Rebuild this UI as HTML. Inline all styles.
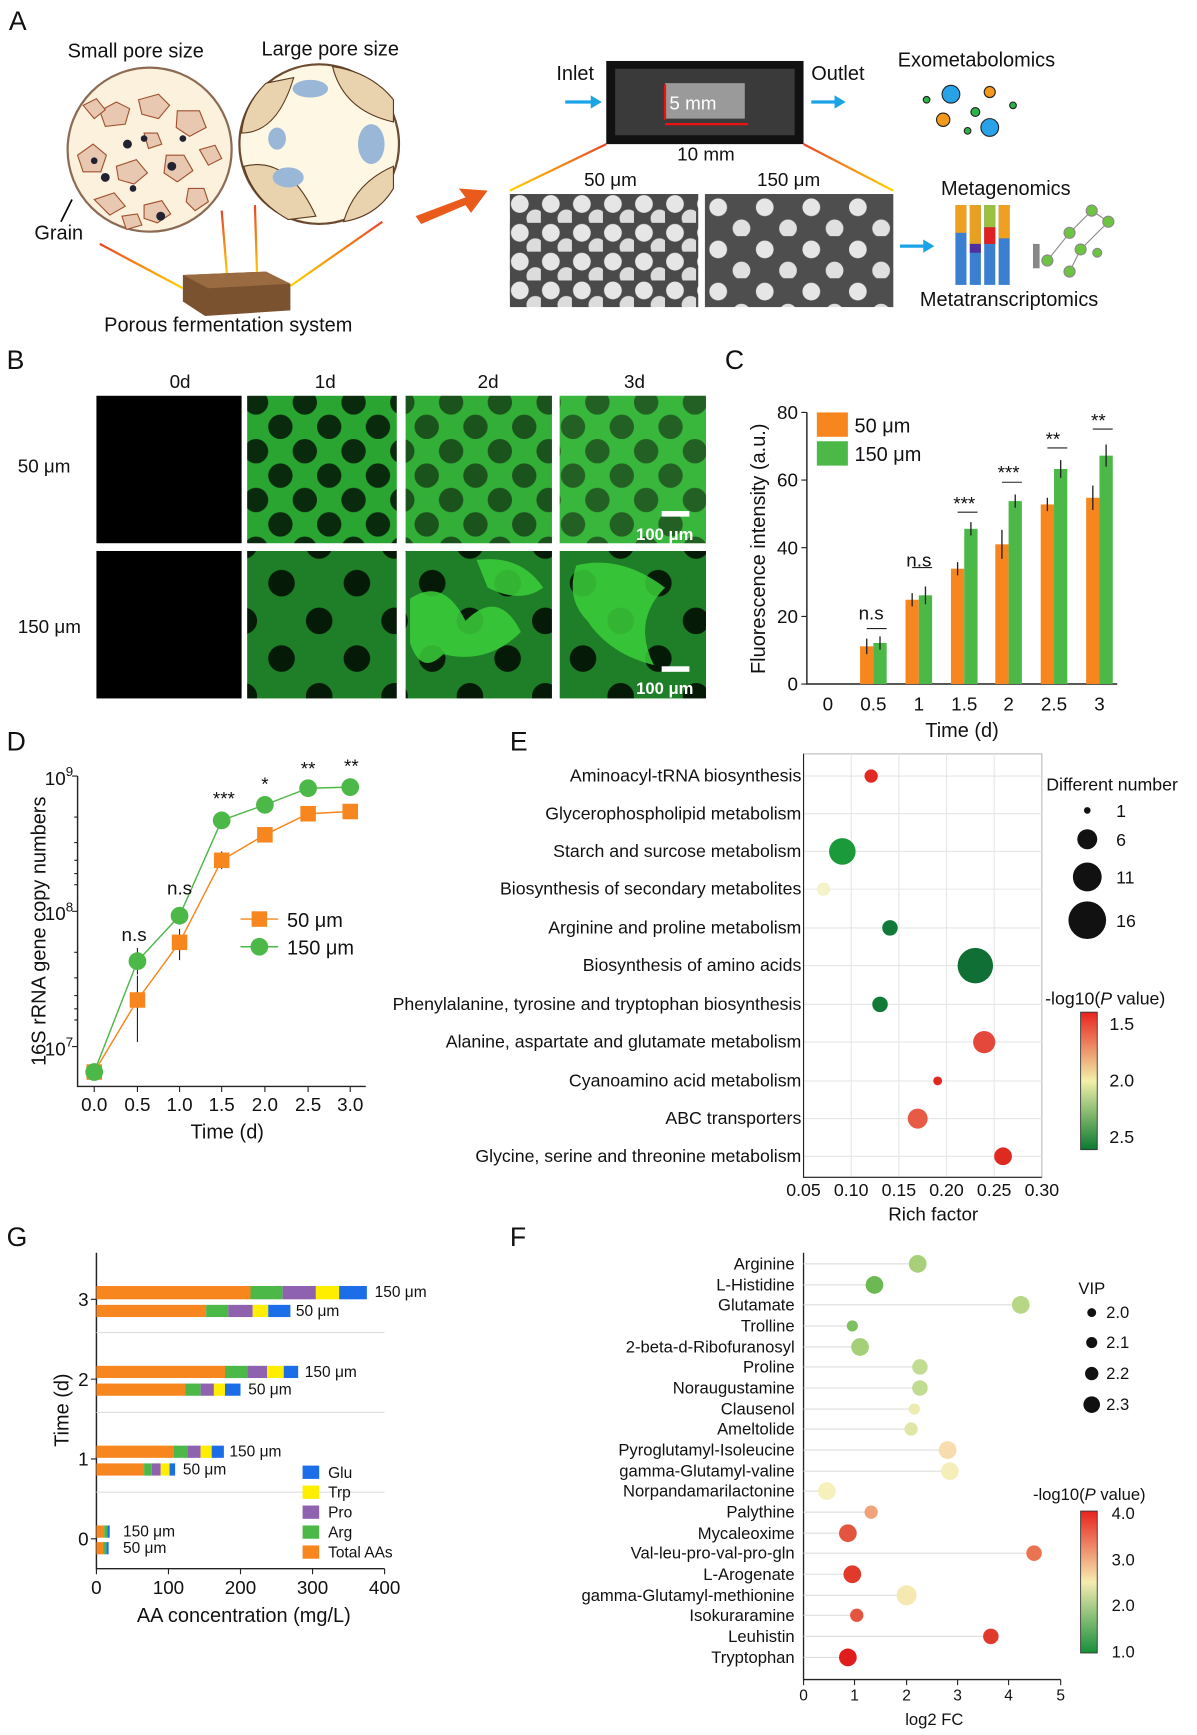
<!DOCTYPE html>
<html><head><meta charset="utf-8"><style>
html,body{margin:0;padding:0;background:#fff}
svg{display:block}
text{font-family:"Liberation Sans",Arial,sans-serif;fill:#111}
</style></head><body>
<svg width="1197" height="1735" viewBox="0 0 1080 1565" preserveAspectRatio="none" xmlns="http://www.w3.org/2000/svg">
<defs>
<linearGradient id="ly" x1="0" y1="0" x2="0" y2="1"><stop offset="0" stop-color="#e8452a"/><stop offset="1" stop-color="#ffd200"/></linearGradient>
<linearGradient id="cbE" x1="0" y1="0" x2="0" y2="1"><stop offset="0" stop-color="#e8231f"/><stop offset="0.5" stop-color="#f2f0a8"/><stop offset="1" stop-color="#0b7a30"/></linearGradient>
<linearGradient id="cbF" x1="0" y1="0" x2="0" y2="1"><stop offset="0" stop-color="#e8231f"/><stop offset="0.5" stop-color="#f6ecb0"/><stop offset="1" stop-color="#16903a"/></linearGradient>
<pattern id="sem1" width="28" height="26" patternUnits="userSpaceOnUse" x="460" y="175"><rect width="28" height="26" fill="#4a4a4a"/><circle cx="9" cy="9" r="8" fill="#e6e6e6"/><circle cx="23" cy="22" r="8" fill="#dcdcdc"/></pattern>
<pattern id="sem2" width="42" height="38" patternUnits="userSpaceOnUse" x="636" y="175"><rect width="42" height="38" fill="#4e4e4e"/><circle cx="12" cy="12" r="8" fill="#e6e6e6"/><circle cx="33" cy="31" r="8" fill="#e0e0e0"/></pattern>
<pattern id="g50" width="44" height="44" patternUnits="userSpaceOnUse"><rect width="44" height="44" fill="#2aa532"/><circle cx="11" cy="11" r="11" fill="#0a2a0d"/><circle cx="33" cy="33" r="11" fill="#0a2a0d"/></pattern>
<pattern id="g150" width="68" height="68" patternUnits="userSpaceOnUse"><rect width="68" height="68" fill="#1f7f28"/><circle cx="16" cy="16" r="12" fill="#061a08"/><circle cx="50" cy="50" r="12" fill="#061a08"/></pattern>
</defs>

<!-- Panel A -->
<text x="8" y="27" font-size="24">A</text>
<text x="61" y="52" font-size="18">Small pore size</text>
<text x="236" y="50" font-size="18">Large pore size</text>
<circle cx="135" cy="135" r="74" fill="#fbf1dc" stroke="#8c6b55" stroke-width="2"/>
<g fill="#e8c8b0" stroke="#a0502f" stroke-width="1">
<path d="M90 100l15-8 12 6-4 14-18 2z"/><path d="M125 90l18-5 10 10-10 12-15-4z"/><path d="M160 100l20 0 6 15-15 8-12-8z"/>
<path d="M70 140l14-10 12 10-5 15-16 0z"/><path d="M105 150l18-6 10 12-12 10-14-4z"/><path d="M150 140l16 0 8 14-14 10-12-8z"/>
<path d="M85 180l18-6 10 12-14 8z"/><path d="M130 185l16-4 8 12-12 8-12-4z"/><path d="M170 170l14 0 4 12-12 8-8-8z"/>
<path d="M75 95l12-6 8 10-10 8z"/><path d="M180 135l14-4 6 12-12 6z"/><path d="M110 195l14-2 4 10-14 4z"/><path d="M130 120l12 0 4 10-12 4z"/>
</g>
<g fill="#223" ><circle cx="115" cy="130" r="4"/><circle cx="130" cy="125" r="3"/><circle cx="155" cy="150" r="4"/><circle cx="95" cy="160" r="4"/><circle cx="145" cy="195" r="4"/><circle cx="165" cy="125" r="3"/><circle cx="85" cy="145" r="3"/><circle cx="120" cy="170" r="3"/></g>
<circle cx="288" cy="130" r="72" fill="#fdf7e3" stroke="#6b4a30" stroke-width="2"/>
<path d="M218 120 Q250 120 265 70 L240 75 Q220 95 218 120z" fill="#e9d2ae" stroke="#5a3a20"/>
<path d="M220 150 Q260 140 285 195 L260 198 Q228 180 220 150z" fill="#e9d2ae" stroke="#5a3a20"/>
<path d="M300 60 Q310 100 355 110 L355 90 Q335 65 300 60z" fill="#e9d2ae" stroke="#5a3a20"/>
<path d="M310 200 Q320 165 355 150 L355 170 Q340 195 310 200z" fill="#e9d2ae" stroke="#5a3a20"/>
<g fill="#9bb7d8"><ellipse cx="280" cy="80" rx="16" ry="8"/><ellipse cx="260" cy="160" rx="14" ry="9"/><ellipse cx="335" cy="130" rx="12" ry="18"/><ellipse cx="250" cy="125" rx="8" ry="10"/></g>
<path d="M65 180 L55 200" stroke="#000" stroke-width="1.5"/>
<text x="31" y="216" font-size="18">Grain</text>
<path d="M90 220 L165 260" stroke="url(#ly)" stroke-width="2"/><path d="M200 190 L205 250" stroke="url(#ly)" stroke-width="2"/><path d="M230 185 L232 250" stroke="url(#ly)" stroke-width="2"/><path d="M345 200 L262 258" stroke="url(#ly)" stroke-width="2"/>
<path d="M165 248 L240 245 L262 256 L262 280 L185 285 L165 272z" fill="#7a5230"/><path d="M165 248 L240 245 L262 256 L188 260z" fill="#9a6b40"/>
<text x="94" y="299" font-size="18">Porous fermentation system</text>
<path d="M375 195 L420 178 L414 170 L440 172 L425 192 L420 185 L380 202z" fill="#ea5a1a"/>
<text x="502" y="72" font-size="18">Inlet</text><text x="732" y="72" font-size="18">Outlet</text>
<path d="M510 92 L535 92" stroke="#1aa3e6" stroke-width="3"/><path d="M533 86 L543 92 L533 98z" fill="#1aa3e6"/>
<path d="M732 92 L755 92" stroke="#1aa3e6" stroke-width="3"/><path d="M753 86 L763 92 L753 98z" fill="#1aa3e6"/>
<rect x="547" y="55" width="178" height="75" fill="#111"/><rect x="555" y="62" width="162" height="60" fill="#3a3a3a"/><rect x="600" y="75" width="72" height="32" fill="#9a9a9a"/>
<path d="M600 76 V108" stroke="#e11" stroke-width="2"/><path d="M600 112 H675" stroke="#e11" stroke-width="2"/>
<text x="604" y="99" font-size="17" style="fill:#fff">5 mm</text>
<text x="611" y="145" font-size="17">10 mm</text>
<path d="M547 130 L460 172" stroke="url(#ly)" stroke-width="2"/><path d="M725 130 L806 172" stroke="url(#ly)" stroke-width="2"/>
<text x="527" y="168" font-size="17">50 μm</text><text x="683" y="168" font-size="17">150 μm</text>
<rect x="460" y="175" width="170" height="102" fill="url(#sem1)"/>
<rect x="636" y="175" width="170" height="102" fill="url(#sem2)"/>
<text x="810" y="60" font-size="18">Exometabolomics</text>
<g stroke="#222" stroke-width="1"><circle cx="858" cy="85" r="8" fill="#29a3e8"/><circle cx="893" cy="83" r="5" fill="#f39a1c"/><circle cx="851" cy="108" r="6" fill="#f39a1c"/><circle cx="880" cy="101" r="4" fill="#2db24a"/><circle cx="893" cy="115" r="8" fill="#29a3e8"/><circle cx="914" cy="95" r="3" fill="#2db24a"/><circle cx="873" cy="118" r="3" fill="#2db24a"/><circle cx="836" cy="90" r="3" fill="#2db24a"/></g>
<text x="849" y="176" font-size="18">Metagenomics</text>
<path d="M812 222 L835 222" stroke="#1aa3e6" stroke-width="3"/><path d="M833 216 L843 222 L833 228z" fill="#1aa3e6"/>
<g><rect x="862" y="185" width="10" height="72" fill="#3b7fd0"/><rect x="862" y="185" width="10" height="25" fill="#f0a020"/><rect x="875" y="185" width="10" height="72" fill="#3b7fd0"/><rect x="875" y="185" width="10" height="35" fill="#e8a020"/><rect x="875" y="220" width="10" height="8" fill="#5030a0"/><rect x="888" y="185" width="10" height="72" fill="#3b7fd0"/><rect x="888" y="185" width="10" height="20" fill="#9ac040"/><rect x="888" y="205" width="10" height="15" fill="#e02020"/><rect x="901" y="185" width="10" height="72" fill="#3b7fd0"/><rect x="901" y="185" width="10" height="30" fill="#f0a020"/></g>
<rect x="932" y="220" width="6" height="22" fill="#888"/>
<g stroke="#8a8a8a" fill="#6cc440"><path d="M945 235 L965 210 L985 190 L1000 200 L975 225 L965 245" fill="none"/><circle cx="945" cy="235" r="5"/><circle cx="965" cy="210" r="5"/><circle cx="985" cy="190" r="5"/><circle cx="1000" cy="200" r="5"/><circle cx="975" cy="225" r="5"/><circle cx="965" cy="245" r="5"/><circle cx="990" cy="228" r="4"/></g>
<text x="830" y="276" font-size="18">Metatranscriptomics</text>

<!-- Panel B -->
<text x="6" y="333" font-size="24">B</text>
<text x="153" y="350" font-size="17">0d</text><text x="284" y="350" font-size="17">1d</text><text x="431" y="350" font-size="17">2d</text><text x="563" y="350" font-size="17">3d</text>
<text x="16" y="426" font-size="17">50 μm</text><text x="16" y="571" font-size="17">150 μm</text>
<rect x="87" y="357" width="131" height="133" fill="#000"/><rect x="87" y="497" width="131" height="133" fill="#000"/>
<rect x="223" y="357" width="135" height="133" fill="url(#g50)"/><rect x="366" y="357" width="132" height="133" fill="url(#g50)"/><rect x="505" y="357" width="132" height="133" fill="url(#g50)"/>
<rect x="366" y="357" width="132" height="133" fill="#4fd04a" opacity="0.25"/><rect x="505" y="357" width="132" height="133" fill="#5ee055" opacity="0.3"/>
<rect x="223" y="497" width="135" height="133" fill="url(#g150)"/><rect x="366" y="497" width="132" height="133" fill="url(#g150)"/><rect x="505" y="497" width="132" height="133" fill="url(#g150)"/>
<g fill="#3ccf3a" opacity="0.85"><path d="M370 540 Q400 520 420 560 Q450 530 470 570 Q440 600 400 590 Q380 610 370 580z"/><path d="M430 505 Q470 500 490 530 Q470 545 440 530z"/><path d="M520 510 Q560 500 600 530 Q570 560 590 600 Q550 590 530 560 Q510 540 520 510z"/></g>
<rect x="597" y="461" width="25" height="5" fill="#fff"/><text x="574" y="487" font-size="15" font-weight="bold" style="fill:#fff">100 μm</text>
<rect x="597" y="601" width="25" height="5" fill="#fff"/><text x="574" y="626" font-size="15" font-weight="bold" style="fill:#fff">100 μm</text>

<!-- Panel C -->
<text x="654" y="333" font-size="24">C</text>
<g stroke="#222" stroke-width="1.3" fill="none"><path d="M728 372 V617 H1008"/></g>
<g font-size="17" text-anchor="end"><text x="720" y="378">80</text><text x="720" y="439">60</text><text x="720" y="500">40</text><text x="720" y="562">20</text><text x="720" y="623">0</text></g>
<g stroke="#222"><path d="M728 372h-5M728 433h-5M728 494h-5M728 556h-5M728 617h-5"/></g>
<g font-size="17" text-anchor="middle"><text x="747" y="641">0</text><text x="788" y="641">0.5</text><text x="829" y="641">1</text><text x="870" y="641">1.5</text><text x="910" y="641">2</text><text x="951" y="641">2.5</text><text x="992" y="641">3</text></g>
<text x="868" y="665" font-size="18" text-anchor="middle">Time (d)</text>
<text transform="translate(690 495) rotate(-90)" font-size="18" text-anchor="middle">Fluorescence intensity (a.u.)</text>
<rect x="737" y="372" width="28" height="22" fill="#f7861f"/><rect x="737" y="398" width="28" height="22" fill="#4cb848"/>
<text x="771" y="390" font-size="18">50 μm</text><text x="771" y="416" font-size="18">150 μm</text>
<g fill="#f7861f"><rect x="776" y="583" width="12" height="34"/><rect x="817" y="541" width="12" height="76"/><rect x="858" y="513" width="12" height="104"/><rect x="898" y="491" width="12" height="126"/><rect x="939" y="455" width="12" height="162"/><rect x="980" y="449" width="12" height="168"/></g>
<g fill="#4cb848"><rect x="788" y="580" width="12" height="37"/><rect x="829" y="537" width="12" height="80"/><rect x="870" y="477" width="12" height="140"/><rect x="910" y="452" width="12" height="165"/><rect x="951" y="423" width="12" height="194"/><rect x="992" y="411" width="12" height="206"/></g>
<g stroke="#222" stroke-width="1.2"><path d="M782 576v14M794 574v12M823 535v12M835 529v16M864 507v12M876 471v12M904 478v26M916 446v12M945 449v12M957 415v16M986 438v22M998 401v20"/></g>
<g stroke="#222"><path d="M782 567h18M823 512h18M864 462h18M904 435h18M945 404h18M986 387h18"/></g>
<g font-size="17" text-anchor="middle"><text x="786" y="559">n.s</text><text x="829" y="511">n.s</text><text x="870" y="460">***</text><text x="910" y="432">***</text><text x="950" y="402">**</text><text x="991" y="385">**</text></g>

<!-- Panel D -->
<text x="6" y="677" font-size="24">D</text>
<path d="M70 700 V980 H330" stroke="#222" stroke-width="1.3" fill="none"/>
<g stroke="#222"><path d="M70 700h-5M70 822h-5M70 944h-5"/>
<path d="M70 737h-3M70 760h-3M70 776h-3M70 788h-3M70 798h-3M70 859h-3M70 882h-3M70 898h-3M70 910h-3M70 920h-3"/>
<path d="M85 980v5M124 980v5M162 980v5M200 980v5M239 980v5M278 980v5M316 980v5"/></g>
<g font-size="17" text-anchor="end"><text x="66" y="708">10<tspan font-size="12" dy="-8">9</tspan></text><text x="66" y="830">10<tspan font-size="12" dy="-8">8</tspan></text><text x="66" y="952">10<tspan font-size="12" dy="-8">7</tspan></text></g>
<g font-size="17" text-anchor="middle"><text x="85" y="1002">0.0</text><text x="124" y="1002">0.5</text><text x="162" y="1002">1.0</text><text x="200" y="1002">1.5</text><text x="239" y="1002">2.0</text><text x="278" y="1002">2.5</text><text x="316" y="1002">3.0</text></g>
<text x="205" y="1027" font-size="18" text-anchor="middle">Time (d)</text>
<text transform="translate(41 840) rotate(-90)" font-size="18" text-anchor="middle">16S rRNA gene copy numbers</text>
<polyline points="85,967 124,902 162,850 200,776 239,753 278,734 316,732" fill="none" stroke="#f7861f" stroke-width="1.3"/>
<polyline points="85,967 124,867 162,826 200,740 239,726 278,711 316,710" fill="none" stroke="#4cb848" stroke-width="1.3"/>
<g stroke="#222"><path d="M124 880v60M162 838v28M200 768v16M124 855v24M162 818v16"/></g>
<g fill="#f7861f"><rect x="78" y="960" width="14" height="14"/><rect x="117" y="895" width="14" height="14"/><rect x="155" y="843" width="14" height="14"/><rect x="193" y="769" width="14" height="14"/><rect x="232" y="746" width="14" height="14"/><rect x="271" y="727" width="14" height="14"/><rect x="309" y="725" width="14" height="14"/></g>
<g fill="#4cb848"><circle cx="85" cy="967" r="8"/><circle cx="124" cy="867" r="8"/><circle cx="162" cy="826" r="8"/><circle cx="200" cy="740" r="8"/><circle cx="239" cy="726" r="8"/><circle cx="278" cy="711" r="8"/><circle cx="316" cy="710" r="8"/></g>
<g font-size="17" text-anchor="middle"><text x="121" y="849">n.s</text><text x="162" y="807">n.s</text><text x="202" y="726">***</text><text x="239" y="713">*</text><text x="278" y="699">**</text><text x="317" y="697">**</text></g>
<path d="M217 829h34" stroke="#f7861f" stroke-width="1.3"/><rect x="227" y="822" width="14" height="14" fill="#f7861f"/>
<path d="M217 854h34" stroke="#4cb848" stroke-width="1.3"/><circle cx="234" cy="854" r="8" fill="#4cb848"/>
<text x="259" y="836" font-size="18">50 μm</text><text x="259" y="861" font-size="18">150 μm</text>

<!-- Panel E -->
<text x="460" y="677" font-size="24">E</text>
<rect x="725" y="680" width="215" height="382" fill="none" stroke="#bbb"/>
<g stroke="#e6e6e6"><path d="M768 680V1062M811 680V1062M854 680V1062M897 680V1062"/>
<path d="M725 700H940M725 734H940M725 768H940M725 802H940M725 837H940M725 871H940M725 906H940M725 940H940M725 975H940M725 1009H940M725 1043H940"/></g>
<path d="M725 680V1062H940" stroke="#222" fill="none"/>
<g font-size="16" text-anchor="end"><text x="723" y="705">Aminoacyl-tRNA biosynthesis</text><text x="723" y="739">Glycerophospholipid metabolism</text><text x="723" y="773">Starch and surcose metabolism</text><text x="723" y="807">Biosynthesis of secondary metabolites</text><text x="723" y="842">Arginine and proline metabolism</text><text x="723" y="876">Biosynthesis of amino acids</text><text x="723" y="911">Phenylalanine, tyrosine and tryptophan biosynthesis</text><text x="723" y="945">Alanine, aspartate and glutamate metabolism</text><text x="723" y="980">Cyanoamino acid metabolism</text><text x="723" y="1014">ABC transporters</text><text x="723" y="1048">Glycine, serine and threonine metabolism</text></g>
<g font-size="16" text-anchor="middle"><text x="725" y="1079">0.05</text><text x="768" y="1079">0.10</text><text x="811" y="1079">0.15</text><text x="854" y="1079">0.20</text><text x="897" y="1079">0.25</text><text x="940" y="1079">0.30</text></g>
<text x="842" y="1101" font-size="17" text-anchor="middle">Rich factor</text>
<circle cx="786" cy="700" r="6" fill="#e32a22"/><circle cx="760" cy="768" r="12" fill="#1b9a3c"/><circle cx="743" cy="802" r="6" fill="#f3f2c8"/><circle cx="803" cy="837" r="7" fill="#117a38"/><circle cx="880" cy="871" r="16" fill="#0f6f35"/><circle cx="794" cy="906" r="7" fill="#127a38"/><circle cx="888" cy="940" r="10" fill="#e4483a"/><circle cx="846" cy="975" r="4" fill="#e3281f"/><circle cx="828" cy="1009" r="9" fill="#e75a45"/><circle cx="905" cy="1043" r="8" fill="#df2a20"/>
<text x="944" y="713" font-size="16">Different number</text>
<circle cx="981" cy="731" r="3" fill="#111"/><circle cx="981" cy="757" r="9" fill="#111"/><circle cx="981" cy="791" r="13" fill="#111"/><circle cx="981" cy="830" r="17" fill="#111"/>
<g font-size="16"><text x="1007" y="737">1</text><text x="1007" y="763">6</text><text x="1007" y="797">11</text><text x="1007" y="836">16</text></g>
<text x="943" y="906" font-size="16">-log10(<tspan font-style="italic">P</tspan> value)</text>
<rect x="975" y="913" width="15" height="124" fill="url(#cbE)" stroke="#333" stroke-width="0.8"/>
<g font-size="16"><text x="1001" y="929">1.5</text><text x="1001" y="980">2.0</text><text x="1001" y="1031">2.5</text></g>

<!-- Panel G -->
<text x="6" y="1124" font-size="24">G</text>
<path d="M87 1130 V1415 H347" stroke="#222" fill="none" stroke-width="1.3"/>
<g stroke="#ddd"><path d="M87 1202H347M87 1274H347M87 1346H347"/></g>
<g stroke="#222"><path d="M87 1172h-5M87 1244h-5M87 1316h-5M87 1388h-5M87 1415v5M152 1415v5M217 1415v5M282 1415v5M347 1415v5"/></g>
<g font-size="17" text-anchor="end"><text x="80" y="1178">3</text><text x="80" y="1250">2</text><text x="80" y="1322">1</text><text x="80" y="1394">0</text></g>
<g font-size="17" text-anchor="middle"><text x="87" y="1438">0</text><text x="152" y="1438">100</text><text x="217" y="1438">200</text><text x="282" y="1438">300</text><text x="347" y="1438">400</text></g>
<text x="220" y="1463" font-size="18" text-anchor="middle">AA concentration (mg/L)</text>
<text transform="translate(62 1272) rotate(-90)" font-size="18" text-anchor="middle">Time (d)</text>
<g id="bars">
<rect x="87" y="1160" width="139" height="12" fill="#f7861f"/><rect x="226" y="1160" width="29" height="12" fill="#4cb848"/><rect x="255" y="1160" width="30" height="12" fill="#8f62b0"/><rect x="285" y="1160" width="21" height="12" fill="#ffee00"/><rect x="306" y="1160" width="25" height="12" fill="#1b6ee8"/>
<rect x="87" y="1177" width="99" height="11" fill="#f7861f"/><rect x="186" y="1177" width="20" height="11" fill="#4cb848"/><rect x="206" y="1177" width="22" height="11" fill="#8f62b0"/><rect x="228" y="1177" width="14" height="11" fill="#ffee00"/><rect x="242" y="1177" width="20" height="11" fill="#1b6ee8"/>
<rect x="87" y="1232" width="116" height="11" fill="#f7861f"/><rect x="203" y="1232" width="20" height="11" fill="#4cb848"/><rect x="223" y="1232" width="18" height="11" fill="#8f62b0"/><rect x="241" y="1232" width="15" height="11" fill="#ffee00"/><rect x="256" y="1232" width="13" height="11" fill="#1b6ee8"/>
<rect x="87" y="1248" width="80" height="11" fill="#f7861f"/><rect x="167" y="1248" width="14" height="11" fill="#4cb848"/><rect x="181" y="1248" width="12" height="11" fill="#8f62b0"/><rect x="193" y="1248" width="10" height="11" fill="#ffee00"/><rect x="203" y="1248" width="14" height="11" fill="#1b6ee8"/>
<rect x="87" y="1304" width="70" height="11" fill="#f7861f"/><rect x="157" y="1304" width="12" height="11" fill="#4cb848"/><rect x="169" y="1304" width="12" height="11" fill="#8f62b0"/><rect x="181" y="1304" width="10" height="11" fill="#ffee00"/><rect x="191" y="1304" width="11" height="11" fill="#1b6ee8"/>
<rect x="87" y="1320" width="43" height="11" fill="#f7861f"/><rect x="130" y="1320" width="7" height="11" fill="#4cb848"/><rect x="137" y="1320" width="8" height="11" fill="#8f62b0"/><rect x="145" y="1320" width="8" height="11" fill="#ffee00"/><rect x="153" y="1320" width="5" height="11" fill="#1b6ee8"/>
<rect x="87" y="1376" width="7" height="11" fill="#f7861f"/><rect x="94" y="1376" width="3" height="11" fill="#4cb848"/><rect x="97" y="1376" width="2" height="11" fill="#1b6ee8"/>
<rect x="87" y="1391" width="6" height="11" fill="#f7861f"/><rect x="93" y="1391" width="3" height="11" fill="#4cb848"/><rect x="96" y="1391" width="2" height="11" fill="#1b6ee8"/>
</g>
<g font-size="14"><text x="338" y="1170">150 μm</text><text x="267" y="1187">50 μm</text><text x="275" y="1242">150 μm</text><text x="224" y="1258">50 μm</text><text x="207" y="1314">150 μm</text><text x="165" y="1330">50 μm</text><text x="111" y="1386">150 μm</text><text x="111" y="1401">50 μm</text></g>
<rect x="273" y="1322" width="15" height="12" fill="#1b6ee8"/><rect x="273" y="1340" width="15" height="12" fill="#ffee00"/><rect x="273" y="1358" width="15" height="12" fill="#8f62b0"/><rect x="273" y="1376" width="15" height="12" fill="#4cb848"/><rect x="273" y="1394" width="15" height="12" fill="#f7861f"/>
<g font-size="14"><text x="296" y="1333">Glu</text><text x="296" y="1351">Trp</text><text x="296" y="1369">Pro</text><text x="296" y="1387">Arg</text><text x="296" y="1405">Total AAs</text></g>

<!-- Panel F -->
<text x="460" y="1124" font-size="24">F</text>
<path d="M725 1130 V1515 H957" stroke="#222" fill="none" stroke-width="1.2"/>
<g stroke="#222"><path d="M725 1515v5M771 1515v5M818 1515v5M864 1515v5M910 1515v5M957 1515v5"/></g>
<g font-size="14" text-anchor="middle"><text x="725" y="1534">0</text><text x="771" y="1534">1</text><text x="818" y="1534">2</text><text x="864" y="1534">3</text><text x="910" y="1534">4</text><text x="957" y="1534">5</text></g>
<text x="843" y="1556" font-size="15" text-anchor="middle">log2 FC</text>
<g stroke="#ddd">
<path d="M725 1140H828M725 1159H789M725 1177H921M725 1196H769M725 1215H776M725 1233H830M725 1252H830M725 1271H825M725 1289H822M725 1308H855M725 1327H857M725 1345H746M725 1364H786M725 1383H765M725 1401H933M725 1420H769M725 1439H818M725 1457H773M725 1476H894M725 1495H765"/></g>
<g font-size="15" text-anchor="end"><text x="717" y="1145">Arginine</text><text x="717" y="1164">L-Histidine</text><text x="717" y="1182">Glutamate</text><text x="717" y="1201">Trolline</text><text x="717" y="1220">2-beta-d-Ribofuranosyl</text><text x="717" y="1238">Proline</text><text x="717" y="1257">Noraugustamine</text><text x="717" y="1276">Clausenol</text><text x="717" y="1294">Ameltolide</text><text x="717" y="1313">Pyroglutamyl-Isoleucine</text><text x="717" y="1332">gamma-Glutamyl-valine</text><text x="717" y="1350">Norpandamarilactonine</text><text x="717" y="1369">Palythine</text><text x="717" y="1388">Mycaleoxime</text><text x="717" y="1406">Val-leu-pro-val-pro-gln</text><text x="717" y="1425">L-Arogenate</text><text x="717" y="1444">gamma-Glutamyl-methionine</text><text x="717" y="1462">Isokuraramine</text><text x="717" y="1481">Leuhistin</text><text x="717" y="1500">Tryptophan</text></g>
<circle cx="828" cy="1140" r="8" fill="#a8d07a"/><circle cx="789" cy="1159" r="8" fill="#6cb853"/><circle cx="921" cy="1177" r="8" fill="#b7d786"/><circle cx="769" cy="1196" r="5" fill="#7cc060"/><circle cx="776" cy="1215" r="8" fill="#a5cf78"/><circle cx="830" cy="1233" r="7" fill="#c2dd92"/><circle cx="830" cy="1252" r="7" fill="#c0dc90"/><circle cx="825" cy="1271" r="5" fill="#ecebb0"/><circle cx="822" cy="1289" r="6" fill="#dfe6a6"/><circle cx="855" cy="1308" r="8" fill="#f6dcae"/><circle cx="857" cy="1327" r="8" fill="#f6eeb8"/><circle cx="746" cy="1345" r="8" fill="#f6f0bc"/><circle cx="786" cy="1364" r="6" fill="#f0a27a"/><circle cx="765" cy="1383" r="8" fill="#e4553f"/><circle cx="933" cy="1401" r="7" fill="#ea7352"/><circle cx="769" cy="1420" r="8" fill="#e23a2a"/><circle cx="818" cy="1439" r="9" fill="#f5e8b0"/><circle cx="773" cy="1457" r="6" fill="#e4553f"/><circle cx="894" cy="1476" r="7" fill="#e03a2c"/><circle cx="765" cy="1495" r="8" fill="#e01c1c"/>
<text x="973" y="1167" font-size="15">VIP</text>
<circle cx="985" cy="1184" r="4" fill="#111"/><circle cx="985" cy="1211" r="5" fill="#111"/><circle cx="985" cy="1239" r="6" fill="#111"/><circle cx="985" cy="1267" r="7.5" fill="#111"/>
<g font-size="15"><text x="998" y="1189">2.0</text><text x="998" y="1216">2.1</text><text x="998" y="1244">2.2</text><text x="998" y="1272">2.3</text></g>
<text x="932" y="1353" font-size="15">-log10(<tspan font-style="italic">P</tspan> value)</text>
<rect x="975" y="1363" width="15" height="128" fill="url(#cbF)" stroke="#333" stroke-width="0.8"/>
<g font-size="15"><text x="1003" y="1370">4.0</text><text x="1003" y="1412">3.0</text><text x="1003" y="1453">2.0</text><text x="1003" y="1495">1.0</text></g>
</svg>
</body></html>
